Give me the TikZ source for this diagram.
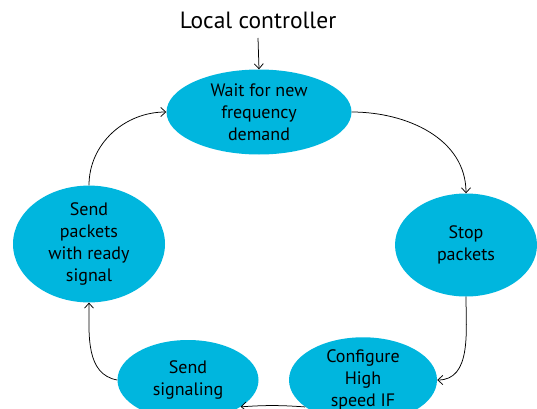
\documentclass[tikz,border=0pt]{standalone}
\usepackage{fontspec}
\setmainfont{PT Sans}
\usetikzlibrary{shapes.geometric,arrows.meta}
\definecolor{statefill}{RGB}{0,182,222}
\tikzset{
  state/.style={ellipse, fill=statefill, draw=none, inner sep=0pt, align=center,
                font=\fontsize{18}{22}\selectfont},
  flow/.style={-{Straight Barb[length=5pt,width=9pt]}, line width=0.75pt, black},
}
\begin{document}
\begin{tikzpicture}[x=1pt,y=1pt]
  \clip (0,0) rectangle (537,408);
  \fill[white] (0,0) rectangle (537,408);

  \node[font=\fontsize{23.5}{28}\selectfont] (title) at (258,388) {Local controller};
  \coordinate (tin) at (258,370);

  \node[state, minimum width=185, minimum height=85] (wait) at (259,296)
    {Wait for new\\frequency\\demand};
  \node[state, minimum width=142, minimum height=103] (stop) at (466,163)
    {Stop\\packets};
  \node[state, minimum width=148, minimum height=80] (conf) at (363,28)
    {Configure\\High\\speed IF};
  \node[state, minimum width=141, minimum height=80] (sig) at (188,28)
    {Send\\signaling};
  \node[state, minimum width=152, minimum height=103] (ready) at (89,164)
    {Send\\packets\\with ready\\signal};

  \draw[flow] (tin) -- (wait.north);
  \draw[flow] (wait.east) to[out=0, in=90] (stop.north);
  \draw[flow] (stop.south) to[out=-90, in=0] (conf.east);
  \draw[flow] (conf.205) to[bend right=4] (sig.-27);
  \draw[flow] (sig.west) to[out=170, in=-90] (ready.south);
  \draw[flow] (ready.north) to[out=90, in=180] (wait.west);
\end{tikzpicture}
\end{document}
